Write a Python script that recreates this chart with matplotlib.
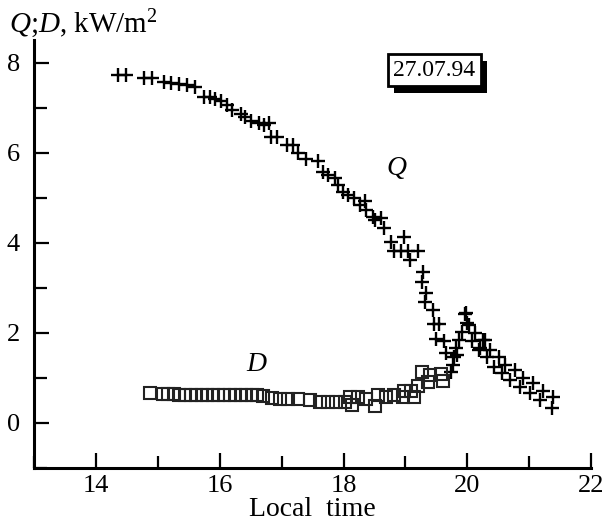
import matplotlib
matplotlib.use("Agg")
import matplotlib.pyplot as plt
from matplotlib.ticker import MultipleLocator
from matplotlib.patches import Rectangle
from matplotlib.transforms import IdentityTransform

plt.rcParams['font.family'] = ['Liberation Serif', 'DejaVu Serif']
plt.rcParams['mathtext.fontset'] = 'custom'
plt.rcParams['mathtext.rm'] = 'Liberation Serif'
plt.rcParams['mathtext.it'] = 'Liberation Serif:italic'

# Q: total radiation, kW/m2
q_time = [14.35, 14.48, 14.77, 14.90, 15.10, 15.22, 15.35, 15.47, 15.60,
          15.74, 15.84, 15.92, 16.02, 16.11, 16.20, 16.35, 16.41, 16.51,
          16.63, 16.71, 16.79, 16.83, 16.92, 17.08, 17.19, 17.27, 17.40,
          17.58, 17.67, 17.75, 17.86, 17.91, 17.99, 18.07, 18.17, 18.26,
          18.34, 18.37, 18.47, 18.50, 18.61, 18.65, 18.76, 18.98, 18.81,
          18.92, 19.04, 19.20, 19.08, 19.28, 19.27, 19.33, 19.31, 19.44,
          19.46, 19.54, 19.49, 19.63, 19.65, 19.73, 19.76, 19.79, 19.81,
          19.84, 19.87, 19.92, 19.96, 19.97, 20.00, 20.03, 20.08, 20.13,
          20.19, 20.21, 20.26, 20.29, 20.32, 20.37, 20.43, 20.51, 20.56,
          20.61, 20.69, 20.77, 20.85, 20.90, 21.01, 21.06, 21.17, 21.22,
          21.36, 21.38]
q_vals = [7.73, 7.73, 7.66, 7.66, 7.58, 7.56, 7.53, 7.50, 7.46,
          7.25, 7.24, 7.20, 7.15, 7.06, 6.95, 6.87, 6.79, 6.70,
          6.67, 6.62, 6.66, 6.36, 6.36, 6.18, 6.18, 5.99, 5.86,
          5.81, 5.58, 5.51, 5.44, 5.29, 5.14, 5.07, 4.99, 4.84,
          4.92, 4.73, 4.58, 4.51, 4.55, 4.33, 4.01, 4.13, 3.81,
          3.81, 3.81, 3.83, 3.61, 3.36, 3.12, 2.88, 2.68, 2.51,
          2.20, 2.20, 1.86, 1.81, 1.55, 1.14, 1.29, 1.46, 1.66,
          1.51, 1.84, 2.03, 2.42, 2.44, 2.21, 2.18, 1.83, 1.99,
          1.62, 1.66, 1.84, 1.84, 1.46, 1.62, 1.25, 1.46, 1.10,
          1.29, 0.96, 1.18, 0.79, 0.99, 0.66, 0.88, 0.51, 0.72,
          0.33, 0.58]

# D: diffuse radiation, kW/m2
d_time = [14.87, 15.08, 15.17, 15.26, 15.35, 15.44, 15.53, 15.62, 15.71,
          15.80, 15.89, 15.98, 16.07, 16.16, 16.25, 16.34, 16.43, 16.52,
          16.61, 16.70, 16.84, 16.98, 17.11, 17.27, 17.46, 17.62, 17.75,
          17.88, 18.02, 18.11, 18.14, 18.23, 18.37, 18.50, 18.55, 18.69,
          18.82, 18.96, 18.98, 19.09, 19.14, 19.20, 19.26, 19.36, 19.40,
          19.57, 19.61]
d_vals = [0.67, 0.64, 0.64, 0.64, 0.63, 0.63, 0.63, 0.63, 0.62,
          0.62, 0.62, 0.63, 0.63, 0.62, 0.62, 0.62, 0.61, 0.61,
          0.61, 0.60, 0.55, 0.53, 0.53, 0.53, 0.50, 0.47, 0.47,
          0.47, 0.47, 0.58, 0.40, 0.58, 0.53, 0.38, 0.62, 0.58,
          0.62, 0.58, 0.70, 0.70, 0.58, 0.81, 1.14, 0.92, 1.07,
          1.09, 0.94]

fig = plt.figure(figsize=(6.03, 5.24), dpi=100)
ax = fig.add_axes([0.0564, 0.107, 0.924, 0.816])

ax.plot(q_time, q_vals, linestyle='none', marker='+', markersize=10.5,
        markeredgewidth=1.7, color='black')
ax.plot(d_time, d_vals, linestyle='none', marker='s', markersize=8,
        markerfacecolor='none', markeredgewidth=1.5, markeredgecolor='#222222')

ax.set_xlim(13, 22)
ax.set_ylim(-1, 8.5)
ax.xaxis.set_major_locator(MultipleLocator(2))
ax.xaxis.set_minor_locator(MultipleLocator(1))
ax.yaxis.set_major_locator(MultipleLocator(2))
ax.yaxis.set_minor_locator(MultipleLocator(1))

for side in ['top', 'right']:
    ax.spines[side].set_visible(False)
for side in ['left', 'bottom']:
    ax.spines[side].set_linewidth(2.2)

ax.tick_params(which='major', direction='in', length=11, width=1.6,
               labelsize=19, pad=5)
ax.tick_params(which='minor', direction='in', length=9, width=1.6)
ax.tick_params(axis='y', which='major', pad=10)

ax.set_xlabel('Local  time', fontsize=20, labelpad=0)

fig.text(0.015, 0.955, r'$\mathit{Q}$;$\mathit{D}$, kW/m$^2$', fontsize=21,
         ha='left', va='center')

ax.text(18.7, 5.5, 'Q', fontsize=20, style='italic')
ax.text(16.43, 1.15, 'D', fontsize=20, style='italic')

# date label with drop shadow
date = ax.text(19.47, 7.84, '27.07.94', fontsize=17, ha='center', va='center',
               zorder=5,
               bbox=dict(boxstyle='square,pad=0.22', facecolor='white',
                         edgecolor='black', linewidth=2))
fig.canvas.draw()
bb = date.get_bbox_patch().get_window_extent()
ax.add_patch(Rectangle((bb.x0 + 6, bb.y0 - 7), bb.width, bb.height,
                       transform=IdentityTransform(), facecolor='black',
                       edgecolor='none', zorder=4, clip_on=False))

fig.savefig('out.png', dpi=100)
